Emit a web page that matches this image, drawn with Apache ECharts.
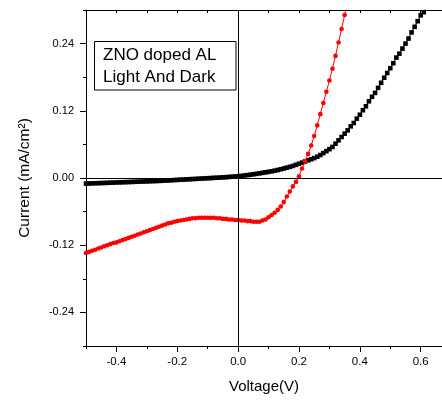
<!DOCTYPE html>
<html>
<head>
<meta charset="utf-8">
<script src="https://cdn.jsdelivr.net/npm/echarts@6/dist/echarts.min.js"></script>
<style>html,body{margin:0;padding:0;background:#fff;}#c{width:442px;height:400px;}</style>
</head>
<body>
<div id="c"></div>
<script>
var voltage = [
-0.50,-0.49,-0.48,-0.47,-0.46,-0.45,-0.44,-0.43,-0.42,-0.41,
-0.40,-0.39,-0.38,-0.37,-0.36,-0.35,-0.34,-0.33,-0.32,-0.31,
-0.30,-0.29,-0.28,-0.27,-0.26,-0.25,-0.24,-0.23,-0.22,-0.21,
-0.20,-0.19,-0.18,-0.17,-0.16,-0.15,-0.14,-0.13,-0.12,-0.11,
-0.10,-0.09,-0.08,-0.07,-0.06,-0.05,-0.04,-0.03,-0.02,-0.01,
0.00,0.01,0.02,0.03,0.04,0.05,0.06,0.07,0.08,0.09,
0.10,0.11,0.12,0.13,0.14,0.15,0.16,0.17,0.18,0.19,
0.20,0.21,0.22,0.23,0.24,0.25,0.26,0.27,0.28,0.29,
0.30,0.31,0.32,0.33,0.34,0.35,0.36,0.37,0.38,0.39,
0.40,0.41,0.42,0.43,0.44,0.45,0.46,0.47,0.48,0.49,
0.50,0.51,0.52,0.53,0.54,0.55,0.56,0.57,0.58,0.59,
0.60,0.61,0.62
];
// Light (red), voltage -0.50 .. 0.36
var currentLight = [
-0.134,-0.132,-0.130,-0.128,-0.126,-0.124,-0.122,-0.120,-0.118,-0.116,
-0.115,-0.113,-0.111,-0.109,-0.107,-0.105,-0.103,-0.101,-0.099,-0.097,
-0.095,-0.093,-0.091,-0.089,-0.087,-0.085,-0.083,-0.081,-0.080,-0.078,
-0.077,-0.076,-0.075,-0.074,-0.073,-0.072,-0.072,-0.071,-0.071,-0.071,
-0.071,-0.071,-0.071,-0.072,-0.072,-0.073,-0.073,-0.074,-0.074,-0.075,
-0.075,-0.076,-0.076,-0.077,-0.077,-0.078,-0.078,-0.078,-0.076,-0.074,
-0.070,-0.066,-0.062,-0.057,-0.051,-0.043,-0.033,-0.024,-0.015,-0.007,
0.003,0.017,0.030,0.043,0.058,0.075,0.094,0.114,0.134,0.154,
0.174,0.195,0.218,0.242,0.266,0.291,0.318
];
// Dark (black), voltage -0.50 .. 0.62
var currentDark = [
-0.0100,-0.0098,-0.0096,-0.0094,-0.0092,-0.0090,-0.0088,-0.0086,-0.0084,-0.0082,
-0.0080,-0.0078,-0.0076,-0.0074,-0.0072,-0.0070,-0.0068,-0.0066,-0.0064,-0.0062,
-0.0060,-0.0058,-0.0056,-0.0054,-0.0052,-0.0049,-0.0046,-0.0043,-0.0040,-0.0037,
-0.0034,-0.0031,-0.0028,-0.0025,-0.0022,-0.0019,-0.0016,-0.0013,-0.0010,-0.0007,
-0.0004,-0.0001,0.0002,0.0005,0.0008,0.0011,0.0015,0.0019,0.0023,0.0027,
0.0031,0.0037,0.0044,0.0051,0.0058,0.0066,0.0074,0.0083,0.0092,0.0101,
0.0110,0.0120,0.0131,0.0143,0.0156,0.0170,0.0184,0.0199,0.0215,0.0235,
0.0255,0.0275,0.0295,0.0315,0.0335,0.0355,0.0380,0.0410,0.0445,0.0480,
0.0515,0.0554,0.0613,0.0673,0.0732,0.0792,0.0851,0.0923,0.0982,0.106,
0.113,0.121,0.128,0.137,0.145,0.152,0.161,0.170,0.179,0.1875,
0.196,0.205,0.215,0.222,0.231,0.240,0.249,0.260,0.270,0.280,
0.2905,0.296,0.306
];
var xTickLabels = [-0.4, -0.2, 0.0, 0.2, 0.4, 0.6];
var xMinorTicks = [-0.5, -0.4, -0.3, -0.2, -0.1, 0.0, 0.1, 0.2, 0.3, 0.4, 0.5, 0.6];
var yTickLabels = [-0.24, -0.12, 0.00, 0.12, 0.24];
var yMinorTicks = [-0.30, -0.24, -0.18, -0.12, -0.06, 0.00, 0.06, 0.12, 0.18, 0.24, 0.30];
var legendLines = ['ZNO doped AL', 'Light And Dark'];

var FONT = '"Liberation Sans", Arial, sans-serif';

function pairs(xs, ys) {
  var out = [];
  for (var i = 0; i < ys.length; i++) out.push([xs[i], ys[i]]);
  return out;
}

var chart = echarts.init(document.getElementById('c'), null, {renderer: 'canvas'});
var axisLineStyle = {color: '#000', width: 1};
var X_MIN = -0.5, X_MAX = 0.67;
var option = {
  animation: false,
  backgroundColor: '#fff',
  grid: {left: 86, right: 0, top: 10, bottom: 54, containLabel: false},
  xAxis: [
    {
      type: 'value', position: 'bottom', min: X_MIN, max: X_MAX,
      axisLine: {show: true, onZero: false, lineStyle: axisLineStyle},
      axisTick: {show: true, inside: false, length: 6, customValues: xTickLabels, lineStyle: axisLineStyle},
      axisLabel: {show: true, customValues: xTickLabels, margin: 10, color: '#000', fontFamily: FONT, fontSize: 11.5,
        formatter: function (v) { return v.toFixed(1); }},
      splitLine: {show: false},
      name: 'Voltage(V)', nameLocation: 'middle', nameGap: 33,
      nameTextStyle: {color: '#000', fontFamily: FONT, fontSize: 15}
    },
    {
      type: 'value', position: 'bottom', min: X_MIN, max: X_MAX,
      axisLine: {show: false, onZero: false},
      axisTick: {show: true, inside: false, length: 3, customValues: xMinorTicks, lineStyle: axisLineStyle},
      axisLabel: {show: false}, splitLine: {show: false}
    },
    {
      type: 'value', position: 'top', min: X_MIN, max: X_MAX,
      axisLine: {show: true, onZero: false, lineStyle: axisLineStyle},
      axisTick: {show: true, inside: true, length: 3, customValues: xMinorTicks, lineStyle: axisLineStyle},
      axisLabel: {show: false}, splitLine: {show: false}
    }
  ],
  yAxis: [
    {
      type: 'value', position: 'left', min: -0.3, max: 0.3,
      axisLine: {show: true, onZero: false, lineStyle: axisLineStyle},
      axisTick: {show: true, inside: false, length: 6, customValues: yTickLabels, lineStyle: axisLineStyle},
      axisLabel: {show: true, customValues: yTickLabels, margin: 12, color: '#000', fontFamily: FONT, fontSize: 11,
        formatter: function (v) { return v.toFixed(2); }},
      splitLine: {show: false},
      name: 'Current (mA/cm\u00B2)', nameLocation: 'middle', nameGap: 53,
      nameTextStyle: {color: '#000', fontFamily: FONT, fontSize: 15.5}
    },
    {
      type: 'value', position: 'left', min: -0.3, max: 0.3,
      axisLine: {show: false, onZero: false},
      axisTick: {show: true, inside: false, length: 3, customValues: yMinorTicks, lineStyle: axisLineStyle},
      axisLabel: {show: false}, splitLine: {show: false}
    }
  ],
  series: [
    {
      name: 'Dark', type: 'line', xAxisIndex: 0, yAxisIndex: 0,
      data: pairs(voltage, currentDark),
      symbol: 'rect', symbolSize: 4.6, showSymbol: true,
      itemStyle: {color: '#000'},
      lineStyle: {color: '#000', width: 1},
      clip: true, z: 2,
      markLine: {
        silent: true, symbol: ['none', 'none'], animation: false,
        label: {show: false},
        lineStyle: {color: '#000', width: 1, type: 'solid'},
        emphasis: {disabled: true},
        data: [{xAxis: 0}, {yAxis: 0}]
      }
    },
    {
      name: 'Light', type: 'line', xAxisIndex: 0, yAxisIndex: 0,
      data: pairs(voltage, currentLight),
      symbol: 'circle', symbolSize: 4.6, showSymbol: true,
      itemStyle: {color: '#ff0000'},
      lineStyle: {color: '#ff0000', width: 1},
      clip: true, z: 3
    }
  ],
  graphic: [
    {
      type: 'rect', shape: {x: 94.5, y: 41.5, width: 141.5, height: 48.5},
      style: {fill: 'none', stroke: '#000', lineWidth: 1}, z: 10
    },
    {
      type: 'text', x: 103, y: 44.5,
      style: {text: legendLines.join('\n'), fill: '#000', fontFamily: FONT, fontSize: 17, lineHeight: 22},
      z: 10
    }
  ]
};
chart.setOption(option);
</script>
</body>
</html>
